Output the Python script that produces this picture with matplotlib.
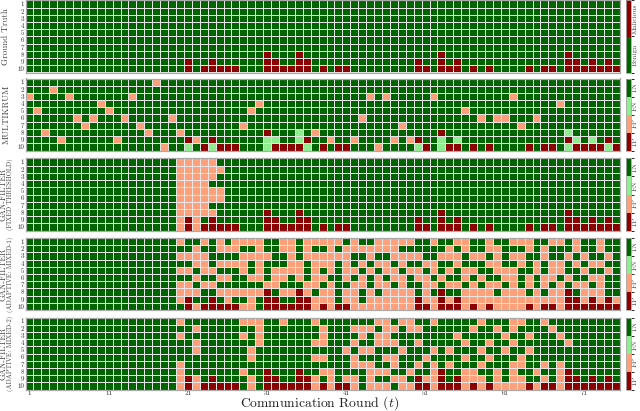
import numpy as np
import matplotlib
matplotlib.use("Agg")
import matplotlib.pyplot as plt
from matplotlib.colors import ListedColormap, BoundaryNorm

# ---------------- data ----------------
n_clients = 10
n_rounds = 75
client_labels = [str(i) for i in range(1, 11)]
xtick_rounds = [1, 11, 21, 31, 41, 51, 61, 71]

# ground truth: malicious clients per row (client -> rounds)
malicious = {
    8: [31, 35, 53, 69],
    9: [21, 24, 31, 32, 35, 36, 50, 53, 55, 69, 70, 72, 74],
    10: [21, 23, 24, 25, 26, 27, 31, 32, 33, 34, 35, 36, 38, 40, 41, 50, 51,
         53, 54, 55, 57, 59, 64, 66, 67, 69, 70, 71, 72, 73, 74, 75],
}

# MultiKrum: false positives / false negatives (client -> rounds)
multikrum_fp = {
    1: [17], 2: [4], 3: [1, 6, 14, 44, 46, 52, 62], 4: [10, 30, 68],
    5: [2, 11, 29, 56], 6: [7, 9, 13, 19, 43, 58, 60, 61, 65],
    7: [8, 15, 28, 48, 63], 8: [3, 16, 20, 37],
    9: [5, 12, 22, 39, 42, 47, 49], 10: [18, 45],
}
multikrum_fn = {
    8: [35, 69],
    9: [31, 32, 35, 53, 55, 70, 72],
    10: [21, 24, 31, 36, 50, 53, 69, 74],
}

# GAN-Filter (fixed threshold): false positives
fixed_fp = {
    1: [20, 21, 22, 23, 24], 2: [20, 21, 22, 23, 24, 25],
    3: [20, 21, 22, 23, 24], 4: [20, 21, 22, 23],
    5: [20, 21, 22, 23, 24, 25], 6: [20, 21, 22, 23, 24, 25],
    7: [20, 21, 22, 23], 8: [20, 21, 22, 23, 24],
    9: [20, 22], 10: [20, 22],
}
fixed_fn = {}

# GAN-Filter (adaptive: mixed-1): false positives
mixed1_fp = {
    1: [20, 23, 25, 27, 28, 29, 30, 33, 34, 36, 37, 38, 39, 40, 42, 45, 46, 47,
        48, 49, 52, 55, 56, 59, 62, 63, 64, 67, 68, 70, 73],
    2: [22, 25, 26, 27, 30, 33, 34, 36, 39, 41, 42, 43, 44, 45, 46, 47, 54, 56,
        59, 60, 64, 66, 70, 73],
    3: [20, 21, 22, 23, 28, 29, 30, 31, 34, 36, 37, 38, 39, 40, 41, 44, 47, 48,
        49, 50, 53, 54, 55, 57, 58, 60, 62, 63, 66, 69, 71, 74],
    4: [22, 23, 25, 26, 27, 28, 30, 34, 35, 37, 38, 39, 41, 43, 45, 46, 48, 51,
        52, 55, 59, 60, 63, 65, 67, 68, 70, 72, 73],
    5: [20, 21, 23, 24, 28, 30, 32, 33, 34, 35, 37, 39, 41, 42, 44, 46, 47, 49,
        50, 52, 54, 56, 57, 60, 61, 62, 65, 67, 68, 71, 74],
    6: [22, 25, 26, 29, 30, 32, 33, 35, 37, 38, 41, 43, 45, 47, 48, 50, 51, 53,
        56, 58, 61, 62, 64, 66, 67, 69, 72, 73],
    7: [20, 21, 23, 24, 31, 32, 36, 37, 39, 42, 43, 45, 46, 48, 51, 52, 54, 55,
        57, 59, 60, 62, 64, 66, 68, 70, 71, 73],
    8: [20, 21, 22, 25, 26, 27, 28, 29, 30, 33, 34, 36, 38, 39, 41, 42, 44, 46,
        47, 48, 49, 51, 56, 57, 58, 59, 61, 62, 63, 65, 67, 68, 71, 72, 73],
    9: [20, 26, 29, 37, 38, 39, 41, 42, 44, 45, 46, 47, 48, 49, 51, 52, 54, 56,
        57, 58, 59, 60, 61, 62, 63, 64, 65, 66, 67, 68, 71, 73, 75],
    10: [22, 28, 29, 37, 39, 42, 43, 44, 45, 46, 47, 48, 49, 52, 56, 58, 60, 61,
         62, 63, 65, 68],
}
mixed1_fn = {}

# GAN-Filter (adaptive: mixed-2): false positives
mixed2_fp = {
    1: [20, 28, 29, 30, 33, 37, 45, 46, 48, 49, 52, 58, 62, 63, 66],
    2: [22, 30, 38, 42, 43, 44, 46, 47, 49, 50, 57, 60, 62, 67],
    3: [20, 28, 30, 38, 43, 45, 46, 55, 61, 64, 68],
    4: [22, 30, 37, 38, 42, 45, 46, 47, 50, 56, 59, 62, 69],
    5: [22, 29, 41, 43, 44, 48, 52, 54, 58, 61, 64],
    6: [29, 37, 38, 42, 46, 47, 51, 56, 59, 63],
    7: [20, 42, 43, 44, 47, 50, 52, 54, 58, 62, 63, 66, 68],
    8: [20, 28, 38, 39, 44, 45, 46, 49, 52, 56, 57, 60, 62, 65, 68],
    9: [20, 22, 29, 37, 39, 41, 42, 44, 47, 48, 51, 52, 56, 57, 58, 60, 62, 63,
        66, 68],
    10: [20, 22, 29, 37, 39, 42, 44, 45, 46, 48, 49, 52, 56, 58, 60, 61, 62, 63,
         65, 68],
}
mixed2_fn = {}

panel_titles = [
    ["Ground Truth"],
    ["MULTIKRUM"],
    ["GAN-FILTER", "(FIXED THRESHOLD)"],
    ["GAN-FILTER", "(ADAPTIVE: MIXED-1)"],
    ["GAN-FILTER", "(ADAPTIVE: MIXED-2)"],
]
state_labels = ["TP", "FP", "FN", "TN"]
gt_labels = ["Benign", "Malicious"]

# ---------------- styling ----------------
plt.rcParams["font.family"] = ["cmr10", "DejaVu Serif"]
plt.rcParams["mathtext.fontset"] = "cm"
plt.rcParams["axes.formatter.use_mathtext"] = True

C_TN = "#006400"
C_TP = "#8b0000"
C_FP = "#ffa07a"
C_FN = "#90ee90"
GRID = "#e6e6e6"
FRAME = "#aaaaaa"


def gt_matrix():
    m = np.zeros((n_clients, n_rounds))
    for c, rs in malicious.items():
        for r in rs:
            m[c - 1, r - 1] = 1
    return m


def det_matrix(fp, fn):
    m = np.full((n_clients, n_rounds), 3.0)
    for c, rs in fp.items():
        for r in rs:
            m[c - 1, r - 1] = 1
    for c, rs in malicious.items():
        for r in rs:
            m[c - 1, r - 1] = 0
    for c, rs in fn.items():
        for r in rs:
            m[c - 1, r - 1] = 2
    return m


W, H = 640, 411
fig = plt.figure(figsize=(W / 100, H / 100), dpi=100)

tops = [0.5, 78.5, 158.5, 238.0, 317.5]
ph = 72.0
left_px, right_px = 25.5, 619.7

mats = [
    gt_matrix(),
    det_matrix(multikrum_fp, multikrum_fn),
    det_matrix(fixed_fp, fixed_fn),
    det_matrix(mixed1_fp, mixed1_fn),
    det_matrix(mixed2_fp, mixed2_fn),
]

cmap_gt = ListedColormap([C_TN, C_TP])
norm_gt = BoundaryNorm([-0.5, 0.5, 1.5], 2)
cmap_det = ListedColormap([C_TP, C_FP, C_FN, C_TN])
norm_det = BoundaryNorm([-0.5, 0.5, 1.5, 2.5, 3.5], 4)

xe = np.arange(0.5, n_rounds + 1.0, 1.0)
ye = np.arange(0.5, n_clients + 1.0, 1.0)

for i, (m, top) in enumerate(zip(mats, tops)):
    ax = fig.add_axes([left_px / W, 1 - (top + ph) / H,
                       (right_px - left_px) / W, ph / H])
    if i == 0:
        cmap, norm = cmap_gt, norm_gt
    else:
        cmap, norm = cmap_det, norm_det
    mesh = ax.pcolormesh(xe, ye, m, cmap=cmap, norm=norm,
                         edgecolors=GRID, linewidth=0.6)
    ax.set_xlim(0.5, n_rounds + 0.5)
    ax.set_ylim(n_clients + 0.5, 0.5)
    ax.set_yticks(range(1, n_clients + 1))
    ax.set_yticklabels(client_labels, fontsize=5, color="#333333")
    ax.set_xticks(xtick_rounds)
    if i == len(mats) - 1:
        ax.set_xticklabels([str(t) for t in xtick_rounds], fontsize=5,
                           color="#333333")
        ax.tick_params(axis="x", pad=0.6)
    else:
        ax.set_xticklabels([])
    ax.tick_params(length=0)
    ax.tick_params(axis="y", pad=1.0)
    for s in ax.spines.values():
        s.set_color(FRAME)
        s.set_linewidth(0.9)

    # panel label
    cy = 1 - (top + ph / 2) / H
    lines = panel_titles[i]
    if len(lines) == 1:
        fig.text(6 / W, cy, lines[0], rotation=90, ha="center", va="center",
                 fontsize=6.5, color="#444444")
    else:
        fig.text(3.5 / W, cy, lines[0], rotation=90, ha="center", va="center",
                 fontsize=6, color="#444444")
        fig.text(10.5 / W, cy, lines[1], rotation=90, ha="center",
                 va="center", fontsize=4.9, color="#444444")

    # colorbar
    cax = fig.add_axes([626.0 / W, 1 - (top + ph) / H, 4.5 / W, ph / H])
    cb = fig.colorbar(mesh, cax=cax)
    if i == 0:
        cb.set_ticks([0, 1])
        cb.set_ticklabels(gt_labels)
    else:
        cb.set_ticks([0, 1, 2, 3])
        cb.set_ticklabels(state_labels)
    cb.ax.tick_params(length=0, pad=0.8, labelsize=5.3, labelcolor="#444444")
    for lab in cb.ax.get_yticklabels():
        lab.set_rotation(90)
        lab.set_va("center")
        lab.set_ha("left")
    cb.outline.set_edgecolor(FRAME)
    cb.outline.set_linewidth(0.6)

fig.text(0.5, 1 - 407.0 / H, r"Communication Round ($t$)", ha="center",
         va="baseline", fontsize=9.8, color="#222222")

fig.savefig("out.png", dpi=100)
